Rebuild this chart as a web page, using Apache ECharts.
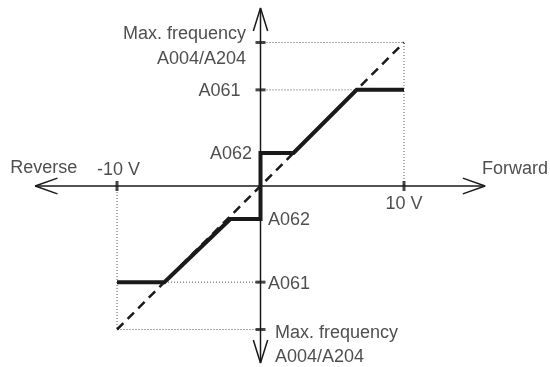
<!DOCTYPE html>
<html>
<head>
<meta charset="utf-8">
<script src="https://cdn.jsdelivr.net/npm/echarts@6/dist/echarts.min.js"></script>
<style>
html,body{margin:0;padding:0;background:#fff;}
#chart{width:550px;height:367px;}
</style>
</head>
<body>
<div id="chart"></div>
<script>
// ---- data (voltage in V, frequency in the same 10-unit scale as max frequency) ----
const voltTicks = [-10, 10];
const voltTickLabels = ['-10 V', '10 V'];
const freqMax = 10;
const A061 = 6.7;
const A062 = 2.3;
const forwardX = [0, 0, 2.3, 6.7, 10];
const forwardY = [0, 2.3, 2.3, 6.7, 6.7];
const reverseX = [0, 0, -2.1, -6.7, -10];
const reverseY = [0, -2.3, -2.3, -6.7, -6.7];
const diagonalX = [-10, 10];
const diagonalY = [-10, 10];
const directionLabels = ['Reverse', 'Forward'];
const freqLabelTop = ['Max. frequency\nA004/A204', 'A061', 'A062'];
const freqLabelBottom = ['Max. frequency\nA004/A204', 'A061', 'A062'];
const axisXExtent = [-15.7, 15.65];
const axisYExtent = [-12.33, 12.4];

// ---- layout helpers ----
const pxPerUnit = 14.35;
const cx = 260.5, cy = 186;
const W = 550, H = 367;
const xMin = -cx / pxPerUnit, xMax = (W - cx) / pxPerUnit;
const yMax = cy / pxPerUnit, yMin = -(H - cy) / pxPerUnit;

const ink = '#1a1a1a';
const font = { fontFamily: 'Liberation Sans, Arial, Helvetica, sans-serif', fontSize: 18, color: '#222' };

function zip(xs, ys) { return xs.map((x, i) => [x, ys[i]]); }
function lineSeries(data, style) {
  return Object.assign({
    type: 'line', data: data, showSymbol: false, symbol: 'none', silent: true,
    animation: false, z: 2
  }, style);
}

const dotted = { lineStyle: { color: '#555', width: 1, type: [1, 2] }, z: 1 };

// arrow heads (open V), size in axis units
const aL = 1.55, aH = 0.55, aLv = 1.6, aHv = 0.5;
const arrows = [
  [[axisXExtent[1] - aL, aH], [axisXExtent[1], 0], [axisXExtent[1] - aL, -aH]],
  [[axisXExtent[0] + aL, aH], [axisXExtent[0], 0], [axisXExtent[0] + aL, -aH]],
  [[-aHv, axisYExtent[1] - aLv], [0, axisYExtent[1]], [aHv, axisYExtent[1] - aLv]],
  [[-aHv, axisYExtent[0] + aLv], [0, axisYExtent[0]], [aHv, axisYExtent[0] + aLv]]
];

const series = [
  // dotted guides
  lineSeries([[0, freqMax], [voltTicks[1], freqMax], [voltTicks[1], 0]], dotted),
  lineSeries([[0, A061], [voltTicks[1], A061]], dotted),
  lineSeries([[voltTicks[0], 0], [voltTicks[0], -freqMax], [0, -freqMax]], dotted),
  lineSeries([[voltTicks[0], -A061], [0, -A061]], dotted),
  // axes
  lineSeries([[axisXExtent[0], 0], [axisXExtent[1], 0]], { lineStyle: { color: ink, width: 1.5 }, z: 3 }),
  lineSeries([[0, axisYExtent[0]], [0, axisYExtent[1]]], { lineStyle: { color: ink, width: 1.5 }, z: 3 })
].concat(arrows.map(a => lineSeries(a, { lineStyle: { color: ink, width: 1.5 }, z: 3 })))
.concat([
  // dashed diagonal
  lineSeries(zip(diagonalX, diagonalY), { lineStyle: { color: ink, width: 2.5, type: [9, 6] }, z: 4 }),
  // characteristic
  lineSeries(zip(forwardX, forwardY), { lineStyle: { color: ink, width: 4, cap: 'butt', join: 'miter' }, z: 5 }),
  lineSeries(zip(reverseX, reverseY), { lineStyle: { color: ink, width: 4, cap: 'butt', join: 'miter' }, z: 5 }),
  // ticks on x axis
  {
    type: 'scatter', silent: true, animation: false, z: 6,
    symbol: 'rect', symbolSize: [3, 10], itemStyle: { color: ink },
    data: voltTicks.map((v, i) => ({
      value: [v, 0],
      label: Object.assign({ show: true, formatter: voltTickLabels[i], position: i === 0 ? 'top' : 'bottom',
        distance: 0, offset: i === 0 ? [1.5, -2] : [0, 4] }, font)
    }))
  },
  // ticks on y axis
  {
    type: 'scatter', silent: true, animation: false, z: 6,
    symbol: 'rect', symbolSize: [10, 3], itemStyle: { color: ink },
    data: [[0, freqMax], [0, A061], [0, -A061], [0, -freqMax]]
  },
  // frequency labels
  {
    type: 'scatter', silent: true, animation: false, z: 7, symbolSize: 0,
    data: [
      { value: [0, freqMax], label: Object.assign({ show: true, formatter: freqLabelTop[0], position: 'left', distance: 14.5, offset: [0, 4], align: 'right', lineHeight: 25 }, font) },
      { value: [0, A061], label: Object.assign({ show: true, formatter: freqLabelTop[1], position: 'left', distance: 20, offset: [0, 1] }, font) },
      { value: [0, A062], label: Object.assign({ show: true, formatter: freqLabelTop[2], position: 'left', distance: 8.5, offset: [0, 1] }, font) },
      { value: [0, -A062], label: Object.assign({ show: true, formatter: freqLabelBottom[2], position: 'right', distance: 7.5, offset: [0, 1] }, font) },
      { value: [0, -A061], label: Object.assign({ show: true, formatter: freqLabelBottom[1], position: 'right', distance: 7.5, offset: [0, 2] }, font) },
      { value: [0, -freqMax], label: Object.assign({ show: true, formatter: freqLabelBottom[0], position: 'right', distance: 14.5, offset: [0, 15.5], align: 'left', lineHeight: 24 }, font) },
      { value: [axisXExtent[0], 0], label: Object.assign({ show: true, formatter: directionLabels[0], position: 'inside', offset: [8.5, -18] }, font) },
      { value: [axisXExtent[1], 0], label: Object.assign({ show: true, formatter: directionLabels[1], position: 'inside', offset: [30, -17] }, font) }
    ]
  }
]);

const chart = echarts.init(document.getElementById('chart'), null, { renderer: 'canvas' });
chart.setOption({
  animation: false,
  backgroundColor: '#fff',
  grid: { left: 0, right: 0, top: 0, bottom: 0 },
  xAxis: { type: 'value', min: xMin, max: xMax, show: false },
  yAxis: { type: 'value', min: yMin, max: yMax, show: false },
  series: series
});
</script>
</body>
</html>
